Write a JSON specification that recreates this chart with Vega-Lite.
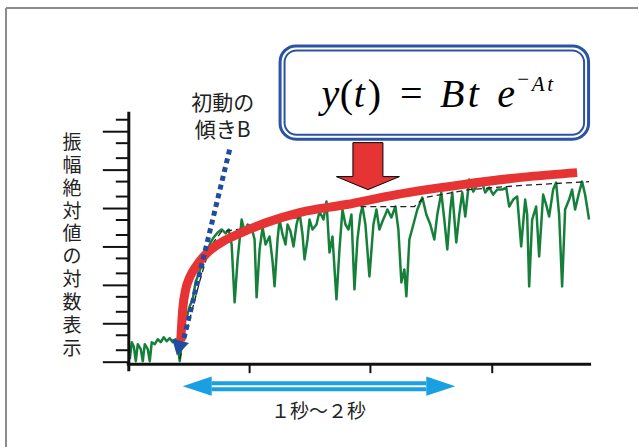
{
  "$schema": "https://vega.github.io/schema/vega-lite/v6.json",
  "width": 639,
  "height": 448,
  "padding": 0,
  "autosize": {"type": "fit", "contains": "padding"},
  "background": "white",
  "config": {"view": {"stroke": null}},
  "datasets": {
    "frame": [
      {"t": -124, "t2": 509, "a": 355, "a2": 355},
      {"t": -124, "t2": -124, "a": 355, "a2": -85}
    ],
    "axes": [
      {"t": -1, "t2": -1, "a": 251, "a2": -9},
      {"t": -3, "t2": 462, "a": -2, "a2": -2}
    ],
    "ticks": [
      {"t": -27, "t2": -1, "a": 0, "a2": 0},
      {"t": -27, "t2": -1, "a": 38.5, "a2": 38.5},
      {"t": -27, "t2": -1, "a": 77, "a2": 77},
      {"t": -27, "t2": -1, "a": 115.5, "a2": 115.5},
      {"t": -27, "t2": -1, "a": 154, "a2": 154},
      {"t": -27, "t2": -1, "a": 192.5, "a2": 192.5},
      {"t": -27, "t2": -1, "a": 231, "a2": 231},
      {"t": -14, "t2": -1, "a": 12, "a2": 12},
      {"t": -14, "t2": -1, "a": 27, "a2": 27},
      {"t": -14, "t2": -1, "a": 50.5, "a2": 50.5},
      {"t": -14, "t2": -1, "a": 65.5, "a2": 65.5},
      {"t": -14, "t2": -1, "a": 89, "a2": 89},
      {"t": -14, "t2": -1, "a": 104, "a2": 104},
      {"t": -14, "t2": -1, "a": 127.5, "a2": 127.5},
      {"t": -14, "t2": -1, "a": 142.5, "a2": 142.5},
      {"t": -14, "t2": -1, "a": 166, "a2": 166},
      {"t": -14, "t2": -1, "a": 181, "a2": 181},
      {"t": -14, "t2": -1, "a": 204.5, "a2": 204.5},
      {"t": -14, "t2": -1, "a": 219.5, "a2": 219.5},
      {"t": -14, "t2": -1, "a": 243, "a2": 243},
      {"t": 120, "t2": 120, "a": -2, "a2": -11},
      {"t": 241, "t2": 241, "a": -2, "a2": -11},
      {"t": 363, "t2": 363, "a": -2, "a2": -11}
    ],
    "boxOuter": [{"t": 150.5, "t2": 459.5, "a": 317, "a2": 223.5}],
    "boxInner": [{"t": 155, "t2": 455, "a": 312.5, "a2": 228}],
    "mainItalic": [
      {"t": 201, "a": 256, "ch": "y"},
      {"t": 230, "a": 256, "ch": "t"},
      {"t": 323, "a": 256, "ch": "B"},
      {"t": 344, "a": 256, "ch": "t"},
      {"t": 377, "a": 256, "ch": "e"}
    ],
    "mainUpright": [
      {"t": 217, "a": 256, "ch": "("},
      {"t": 245, "a": 256, "ch": ")"},
      {"t": 282, "a": 256, "ch": "="}
    ],
    "supItalic": [
      {"t": 409, "a": 272, "ch": "A"},
      {"t": 421, "a": 272, "ch": "t"}
    ],
    "supUpright": [{"t": 394, "a": 277, "ch": "−"}],
    "downArrow": [{"t": 238.5, "a": 196.5}],
    "signal": [
      {"t": 0, "a": 3}, {"t": 2, "a": 20}, {"t": 4, "a": 16}, {"t": 6, "a": 1}, {"t": 8, "a": 18},
      {"t": 11, "a": 13}, {"t": 13, "a": 1}, {"t": 15, "a": 18}, {"t": 18, "a": 13}, {"t": 20, "a": 1},
      {"t": 22, "a": 20}, {"t": 25, "a": 18}, {"t": 28, "a": 23}, {"t": 31, "a": 20}, {"t": 34, "a": 25},
      {"t": 37, "a": 21}, {"t": 40, "a": 24}, {"t": 43, "a": 20}, {"t": 46, "a": 23}, {"t": 48, "a": 18},
      {"t": 50, "a": 1}, {"t": 52, "a": 18}, {"t": 54, "a": 41}, {"t": 57, "a": 45}, {"t": 60, "a": 56},
      {"t": 63, "a": 63}, {"t": 66, "a": 81}, {"t": 69, "a": 88}, {"t": 72, "a": 98}, {"t": 75, "a": 105},
      {"t": 78, "a": 113}, {"t": 81, "a": 120}, {"t": 84, "a": 125}, {"t": 88, "a": 130}, {"t": 92, "a": 133},
      {"t": 96, "a": 129}, {"t": 99, "a": 133}, {"t": 102, "a": 118}, {"t": 105, "a": 60}, {"t": 108, "a": 103},
      {"t": 112, "a": 143}, {"t": 115, "a": 131}, {"t": 118, "a": 138}, {"t": 122, "a": 135}, {"t": 125, "a": 123},
      {"t": 127, "a": 65}, {"t": 130, "a": 113}, {"t": 133, "a": 135}, {"t": 136, "a": 118}, {"t": 140, "a": 126},
      {"t": 143, "a": 101}, {"t": 145, "a": 76}, {"t": 148, "a": 123}, {"t": 150, "a": 143}, {"t": 153, "a": 128},
      {"t": 156, "a": 118}, {"t": 158, "a": 138}, {"t": 161, "a": 131}, {"t": 164, "a": 116}, {"t": 167, "a": 138},
      {"t": 170, "a": 150}, {"t": 173, "a": 128}, {"t": 175, "a": 103}, {"t": 178, "a": 123}, {"t": 180, "a": 143},
      {"t": 183, "a": 133}, {"t": 187, "a": 138}, {"t": 190, "a": 151}, {"t": 194, "a": 143}, {"t": 197, "a": 161},
      {"t": 200, "a": 110}, {"t": 203, "a": 126}, {"t": 207, "a": 63}, {"t": 210, "a": 113}, {"t": 213, "a": 153},
      {"t": 216, "a": 138}, {"t": 219, "a": 133}, {"t": 222, "a": 148}, {"t": 225, "a": 73}, {"t": 228, "a": 123},
      {"t": 231, "a": 148}, {"t": 233, "a": 156}, {"t": 236, "a": 138}, {"t": 240, "a": 86}, {"t": 244, "a": 138},
      {"t": 247, "a": 153}, {"t": 250, "a": 133}, {"t": 253, "a": 141}, {"t": 256, "a": 148}, {"t": 258, "a": 153},
      {"t": 262, "a": 145}, {"t": 266, "a": 156}, {"t": 269, "a": 133}, {"t": 272, "a": 80}, {"t": 275, "a": 93},
      {"t": 277, "a": 66}, {"t": 280, "a": 123}, {"t": 284, "a": 138}, {"t": 288, "a": 153}, {"t": 293, "a": 165},
      {"t": 297, "a": 148}, {"t": 301, "a": 138}, {"t": 305, "a": 123}, {"t": 308, "a": 148}, {"t": 312, "a": 170},
      {"t": 315, "a": 143}, {"t": 318, "a": 113}, {"t": 321, "a": 153}, {"t": 323, "a": 170}, {"t": 327, "a": 120},
      {"t": 330, "a": 148}, {"t": 333, "a": 170}, {"t": 336, "a": 146}, {"t": 340, "a": 183}, {"t": 344, "a": 171},
      {"t": 348, "a": 178}, {"t": 352, "a": 183}, {"t": 356, "a": 170}, {"t": 360, "a": 175}, {"t": 364, "a": 168},
      {"t": 368, "a": 173}, {"t": 373, "a": 173}, {"t": 377, "a": 175}, {"t": 380, "a": 156}, {"t": 384, "a": 163},
      {"t": 388, "a": 166}, {"t": 392, "a": 116}, {"t": 396, "a": 163}, {"t": 398, "a": 148}, {"t": 400, "a": 76},
      {"t": 403, "a": 143}, {"t": 407, "a": 156}, {"t": 410, "a": 106}, {"t": 414, "a": 168}, {"t": 417, "a": 158},
      {"t": 420, "a": 146}, {"t": 424, "a": 173}, {"t": 427, "a": 180}, {"t": 430, "a": 148}, {"t": 433, "a": 76},
      {"t": 436, "a": 153}, {"t": 440, "a": 163}, {"t": 443, "a": 173}, {"t": 446, "a": 153}, {"t": 450, "a": 170},
      {"t": 453, "a": 181}, {"t": 456, "a": 168}, {"t": 460, "a": 143}
    ],
    "envelope": [
      {"t": 50, "a": 3}, {"t": 60, "a": 43}, {"t": 70, "a": 81}, {"t": 80, "a": 115}, {"t": 92, "a": 131},
      {"t": 125, "a": 135}, {"t": 132, "a": 135}, {"t": 145, "a": 143}, {"t": 170, "a": 145}, {"t": 180, "a": 150},
      {"t": 192, "a": 157}, {"t": 230, "a": 156}, {"t": 285, "a": 156}, {"t": 295, "a": 165}, {"t": 340, "a": 173},
      {"t": 390, "a": 177}, {"t": 460, "a": 181}
    ],
    "fit": [
      {"t": 51, "a": 21}, {"t": 53, "a": 53}, {"t": 56, "a": 73}, {"t": 60, "a": 85}, {"t": 67, "a": 97},
      {"t": 77, "a": 109}, {"t": 90, "a": 119}, {"t": 110, "a": 129}, {"t": 137, "a": 140}, {"t": 170, "a": 150},
      {"t": 217, "a": 158}, {"t": 267, "a": 168}, {"t": 333, "a": 178}, {"t": 400, "a": 186}, {"t": 448, "a": 190}
    ],
    "slope": [{"t": 100, "t2": 54, "a": 213, "a2": 23}],
    "slopeTip": [{"t": 49, "a": 14}],
    "span": [{"t": 82, "t2": 297, "a": -24, "a2": -24}],
    "spanLeft": [{"t": 67.5, "a": -24}],
    "spanRight": [{"t": 311.5, "a": -24}],
    "labelTop": [
      {"t": 93, "a": 258.5, "text": "初動の"},
      {"t": 93, "a": 231.5, "text": "傾きB"}
    ],
    "yTitle": [
      {"t": -58, "a": 220, "text": "振"},
      {"t": -58, "a": 197, "text": "幅"},
      {"t": -58, "a": 174, "text": "絶"},
      {"t": -58, "a": 151, "text": "対"},
      {"t": -58, "a": 128, "text": "値"},
      {"t": -58, "a": 105, "text": "の"},
      {"t": -58, "a": 82, "text": "対"},
      {"t": -58, "a": 59, "text": "数"},
      {"t": -58, "a": 36, "text": "表"},
      {"t": -58, "a": 13, "text": "示"}
    ],
    "spanLabel": [{"t": 189, "a": -49.5, "text": "１秒～２秒"}]
  },
  "encoding": {
    "x": {"field": "t", "type": "quantitative", "scale": {"domain": [-130, 509], "nice": false, "zero": false}, "axis": null},
    "y": {"field": "a", "type": "quantitative", "scale": {"domain": [-85, 363], "nice": false, "zero": false}, "axis": null}
  },
  "layer": [
    {"data": {"name": "frame"}, "mark": {"type": "rule", "color": "#8c8c8c", "strokeWidth": 2},
     "encoding": {"x2": {"field": "t2"}, "y2": {"field": "a2"}}},
    {"data": {"name": "boxOuter"}, "mark": {"type": "rect", "fill": "white", "stroke": "#2a53a3", "strokeWidth": 3, "cornerRadius": 16},
     "encoding": {"x2": {"field": "t2"}, "y2": {"field": "a2"}}},
    {"data": {"name": "boxInner"}, "mark": {"type": "rect", "fill": "white", "fillOpacity": 0, "stroke": "#2a53a3", "strokeWidth": 2, "cornerRadius": 12},
     "encoding": {"x2": {"field": "t2"}, "y2": {"field": "a2"}}},
    {"data": {"name": "mainItalic"}, "mark": {"type": "text", "font": "Liberation Serif", "fontSize": 40, "fontStyle": "italic", "align": "center", "baseline": "alphabetic", "color": "black"},
     "encoding": {"text": {"field": "ch"}}},
    {"data": {"name": "mainUpright"}, "mark": {"type": "text", "font": "Liberation Serif", "fontSize": 40, "align": "center", "baseline": "alphabetic", "color": "black"},
     "encoding": {"text": {"field": "ch"}}},
    {"data": {"name": "supItalic"}, "mark": {"type": "text", "font": "Liberation Serif", "fontSize": 21, "fontStyle": "italic", "align": "center", "baseline": "alphabetic", "color": "black"},
     "encoding": {"text": {"field": "ch"}}},
    {"data": {"name": "supUpright"}, "mark": {"type": "text", "font": "Liberation Serif", "fontSize": 21, "align": "center", "baseline": "alphabetic", "color": "black"},
     "encoding": {"text": {"field": "ch"}}},
    {"data": {"name": "downArrow"}, "mark": {"type": "point", "filled": true, "fill": "#e63333", "fillOpacity": 1, "stroke": "black", "strokeWidth": 1, "opacity": 1, "size": 3969,
      "shape": "M-0.476,-0.746L0.476,-0.746L0.476,0.333L1,0.333L0,0.746L-1,0.333L-0.476,0.333Z"}},
    {"data": {"name": "signal"}, "mark": {"type": "line", "color": "#16803b", "strokeWidth": 2.5, "strokeJoin": "round"}},
    {"data": {"name": "envelope"}, "mark": {"type": "line", "color": "#222222", "strokeWidth": 1.3, "strokeDash": [6, 4]}},
    {"data": {"name": "fit"}, "mark": {"type": "line", "color": "#e63333", "strokeWidth": 9, "strokeCap": "butt", "strokeJoin": "round", "interpolate": "monotone"}},
    {"data": {"name": "slope"}, "mark": {"type": "rule", "color": "#1f4c9e", "strokeWidth": 5, "strokeDash": [5, 4], "strokeCap": "butt"},
     "encoding": {"x2": {"field": "t2"}, "y2": {"field": "a2"}}},
    {"data": {"name": "slopeTip"}, "mark": {"type": "point", "shape": "triangle-down", "filled": true, "color": "#1f4c9e", "opacity": 1, "size": 300, "angle": 14}},
    {"data": {"name": "axes"}, "mark": {"type": "rule", "color": "#111111", "strokeWidth": 3},
     "encoding": {"x2": {"field": "t2"}, "y2": {"field": "a2"}}},
    {"data": {"name": "ticks"}, "mark": {"type": "rule", "color": "#111111", "strokeWidth": 2},
     "encoding": {"x2": {"field": "t2"}, "y2": {"field": "a2"}}},
    {"data": {"name": "span"}, "mark": {"type": "rule", "color": "#1a9fe3", "strokeWidth": 10},
     "encoding": {"x2": {"field": "t2"}, "y2": {"field": "a2"}}},
    {"data": {"name": "span"}, "mark": {"type": "rule", "color": "white", "strokeWidth": 2},
     "encoding": {"x2": {"field": "t2"}, "y2": {"field": "a2"}}},
    {"data": {"name": "spanLeft"}, "mark": {"type": "point", "filled": true, "color": "#1a9fe3", "opacity": 1, "size": 841, "shape": "M-1,0L1,-0.66L1,0.66Z"}},
    {"data": {"name": "spanRight"}, "mark": {"type": "point", "filled": true, "color": "#1a9fe3", "opacity": 1, "size": 841, "shape": "M1,0L-1,-0.66L-1,0.66Z"}},
    {"data": {"name": "labelTop"}, "mark": {"type": "text", "font": "Noto Sans CJK JP", "fontSize": 21, "align": "center", "baseline": "middle", "color": "#222222"},
     "encoding": {"text": {"field": "text"}}},
    {"data": {"name": "yTitle"}, "mark": {"type": "text", "font": "Noto Sans CJK JP", "fontSize": 19, "align": "center", "baseline": "middle", "color": "#222222"},
     "encoding": {"text": {"field": "text"}}},
    {"data": {"name": "spanLabel"}, "mark": {"type": "text", "font": "Noto Sans CJK JP", "fontSize": 19, "align": "center", "baseline": "middle", "color": "#222222"},
     "encoding": {"text": {"field": "text"}}}
  ]
}
